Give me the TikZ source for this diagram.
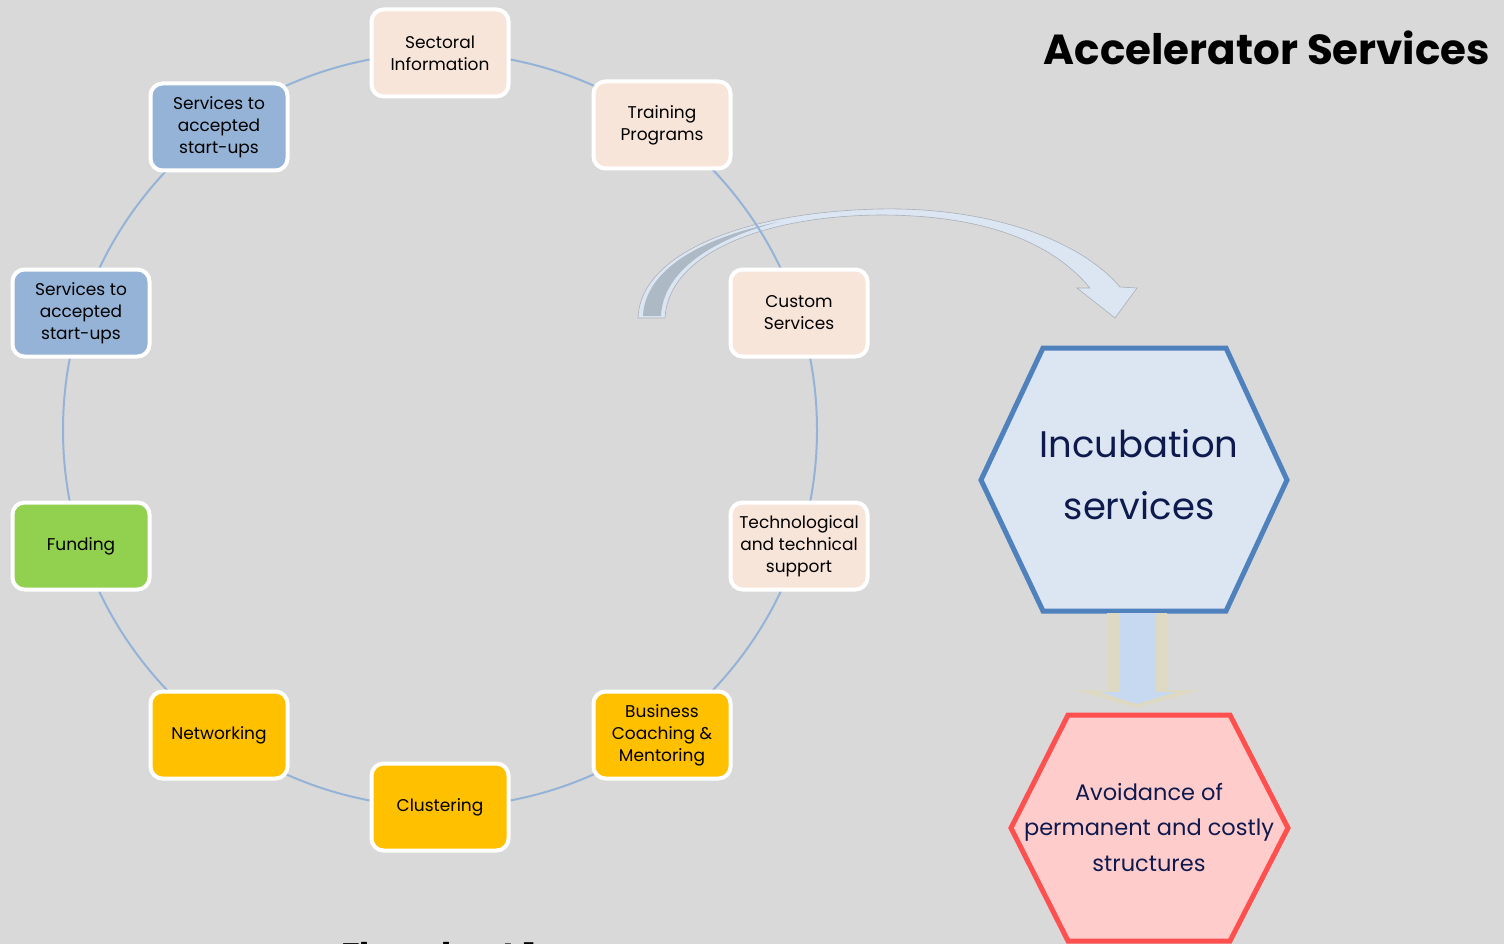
\documentclass[tikz,border=0pt]{standalone}
\usepackage{fontspec}
\setmainfont{Poppins}
\usetikzlibrary{shapes.geometric}
\definecolor{bg}{RGB}{217,217,217}
\definecolor{ringcol}{RGB}{149,179,215}
\definecolor{peach}{RGB}{248,229,218}
\definecolor{bluebox}{RGB}{149,179,215}
\definecolor{greenbox}{RGB}{146,208,80}
\definecolor{orangebox}{RGB}{255,192,0}
\definecolor{hexblue}{RGB}{220,230,242}
\definecolor{hexblueline}{RGB}{79,129,189}
\definecolor{hexpink}{RGB}{255,204,204}
\definecolor{hexred}{RGB}{255,80,80}
\definecolor{navy}{RGB}{14,26,78}
\definecolor{arrowlight}{RGB}{220,230,242}
\definecolor{arrowdark}{RGB}{174,185,198}
\definecolor{arrowedge}{RGB}{170,175,185}
\definecolor{beige}{RGB}{221,217,195}
\definecolor{arrowblue}{RGB}{198,217,241}
\tikzset{
  box/.style={rounded corners=12pt, draw=white, line width=4pt,
    minimum width=137pt, minimum height=87pt, align=center,
    font=\fontsize{17}{22}\selectfont, text=black, inner sep=2pt},
  peachbox/.style={box, fill=peach},
  bluebx/.style={box, fill=bluebox},
  greenbx/.style={box, fill=greenbox},
  orangebx/.style={box, fill=orangebox},
  ring/.style={draw=ringcol, line width=2pt},
}
\begin{document}
\begin{tikzpicture}[x=1pt,y=-1pt]
\useasboundingbox[fill=bg] (0,0) rectangle (1504,944);

% curved arrow
\draw[fill=arrowlight, draw=arrowedge, line width=0.6pt]
  (638,318) .. controls (640,255) and (740,212) .. (880,209)
  .. controls (990,207) and (1080,240) .. (1120,287)
  -- (1137,288) -- (1115,318) -- (1077,288) -- (1090,288)
  .. controls (1050,240) and (980,215) .. (880,215)
  .. controls (760,216) and (668,255) .. (665,318) -- cycle;
\fill[arrowdark]
  (643,316) .. controls (645,270) and (700,238) .. (778,222)
  .. controls (710,240) and (663,272) .. (661,316) -- cycle;

% ring
\coordinate (rc) at (440,430);
\draw[ring] (rc) circle[radius=377];

% ring nodes
\node[peachbox] (sect) at (440,53) {Sectoral\\Information};
\node[peachbox] (train) at (662,125) {Training\\Programs};
\node[peachbox] (cust) at (799,313) {Custom\\Services};
\node[peachbox] (tech) at (799,546) {Technological\\and technical\\support};
\node[orangebx] (busi) at (662,735) {Business\\Coaching \&\\Mentoring};
\node[orangebx] (clus) at (440,807) {Clustering};
\node[orangebx] (netw) at (219,735) {Networking};
\node[greenbx] (fund) at (81,546) {Funding};
\node[bluebx] (serva) at (81,313) {Services to\\accepted\\start-ups};
\node[bluebx] (servb) at (219,127) {Services to\\accepted\\start-ups};

% title
\node[font=\fontsize{42}{50}\selectfont\bfseries, text=black] (title) at (1267,48) {Accelerator Services};

% incubation hexagon
\draw[fill=hexblue, draw=hexblueline, line width=5pt, line join=miter]
  (1043,348) -- (1226,348) -- (1287,480) -- (1226,611) -- (1043,611) -- (981,480) -- cycle;
\node[align=center, text=navy, font=\fontsize{37}{62}\selectfont] (incub) at (1139,475) {Incubation\\services};

% down block arrow
\fill[beige] (1107,613) -- (1167,613) -- (1167,690) -- (1200,690) -- (1137,708) -- (1075,690) -- (1107,690) -- cycle;
\fill[arrowblue] (1120,613) -- (1156,613) -- (1156,692) -- (1176,692) -- (1137,704) -- (1100,692) -- (1120,692) -- cycle;

% avoidance hexagon
\draw[fill=hexpink, draw=hexred, line width=5pt, line join=miter]
  (1068,715) -- (1230,715) -- (1288,828) -- (1230,941) -- (1068,941) -- (1011,828) -- cycle;
\node[align=center, text=navy, font=\fontsize{22.5}{35.5}\selectfont] (avoid) at (1149,827) {Avoidance of\\permanent and costly\\structures};

% cut caption
\node[anchor=base west, inner sep=0pt, font=\fontsize{34}{40}\selectfont\bfseries, text=black] (cap) at (341,967) {Flowchart 1};
\end{tikzpicture}
\end{document}
